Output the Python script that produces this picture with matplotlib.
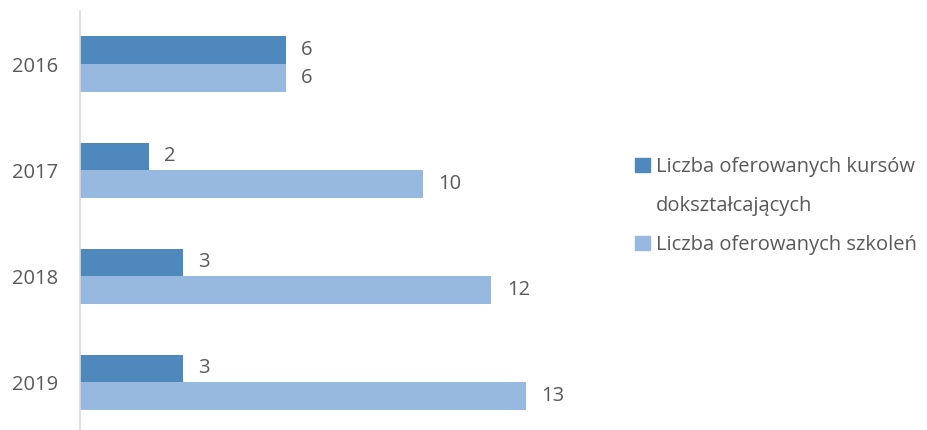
import matplotlib.pyplot as plt
from matplotlib.patches import Patch
import numpy as np

years = ["2016", "2017", "2018", "2019"]
kursy = [6, 2, 3, 3]
szkolenia = [6, 10, 12, 13]
labels = ["Liczba oferowanych kursów", "dokształcających", "Liczba oferowanych szkoleń"]

dark = "#4F88BC"
light = "#97B8DF"
txt = "#595959"
plt.rcParams['font.family'] = ['Open Sans', 'DejaVu Sans']
fs = 14.5

fig = plt.figure(figsize=(9.28, 4.3), dpi=100)
ax = fig.add_axes([80/928, 0.0, 480/928, 419/430])

y = np.arange(len(years))
h = 0.26
b1 = ax.barh(y - h/2, kursy, height=h, color=dark)
b2 = ax.barh(y + h/2, szkolenia, height=h, color=light)

for bars in (b1, b2):
    for r in bars:
        ax.annotate(str(int(r.get_width())), (r.get_width(), r.get_y() + r.get_height()/2),
                    xytext=(11, 0), textcoords="offset points", va="center", ha="left",
                    fontsize=fs, color=txt)

ax.set_xlim(0, 14)
ax.set_ylim(3.45, -0.5)
ax.set_yticks(y)
ax.set_yticklabels(years, fontsize=fs, color=txt)
ax.tick_params(axis='y', length=0, pad=16)
ax.set_xticks([])
for s in ["top", "right", "bottom"]:
    ax.spines[s].set_visible(False)
ax.spines["left"].set_color("#D9D9D9")
ax.spines["left"].set_linewidth(1.2)

handles = [Patch(color=dark), Patch(color="none"), Patch(color=light)]
leg = fig.legend(handles, labels, loc="upper left", bbox_to_anchor=(617/928, 1 - 139/430),
                 frameon=False, fontsize=fs, handlelength=0.75, handleheight=0.75,
                 handletextpad=0.3, labelspacing=0.94, labelcolor=txt)

fig.savefig("out.png", dpi=100)
